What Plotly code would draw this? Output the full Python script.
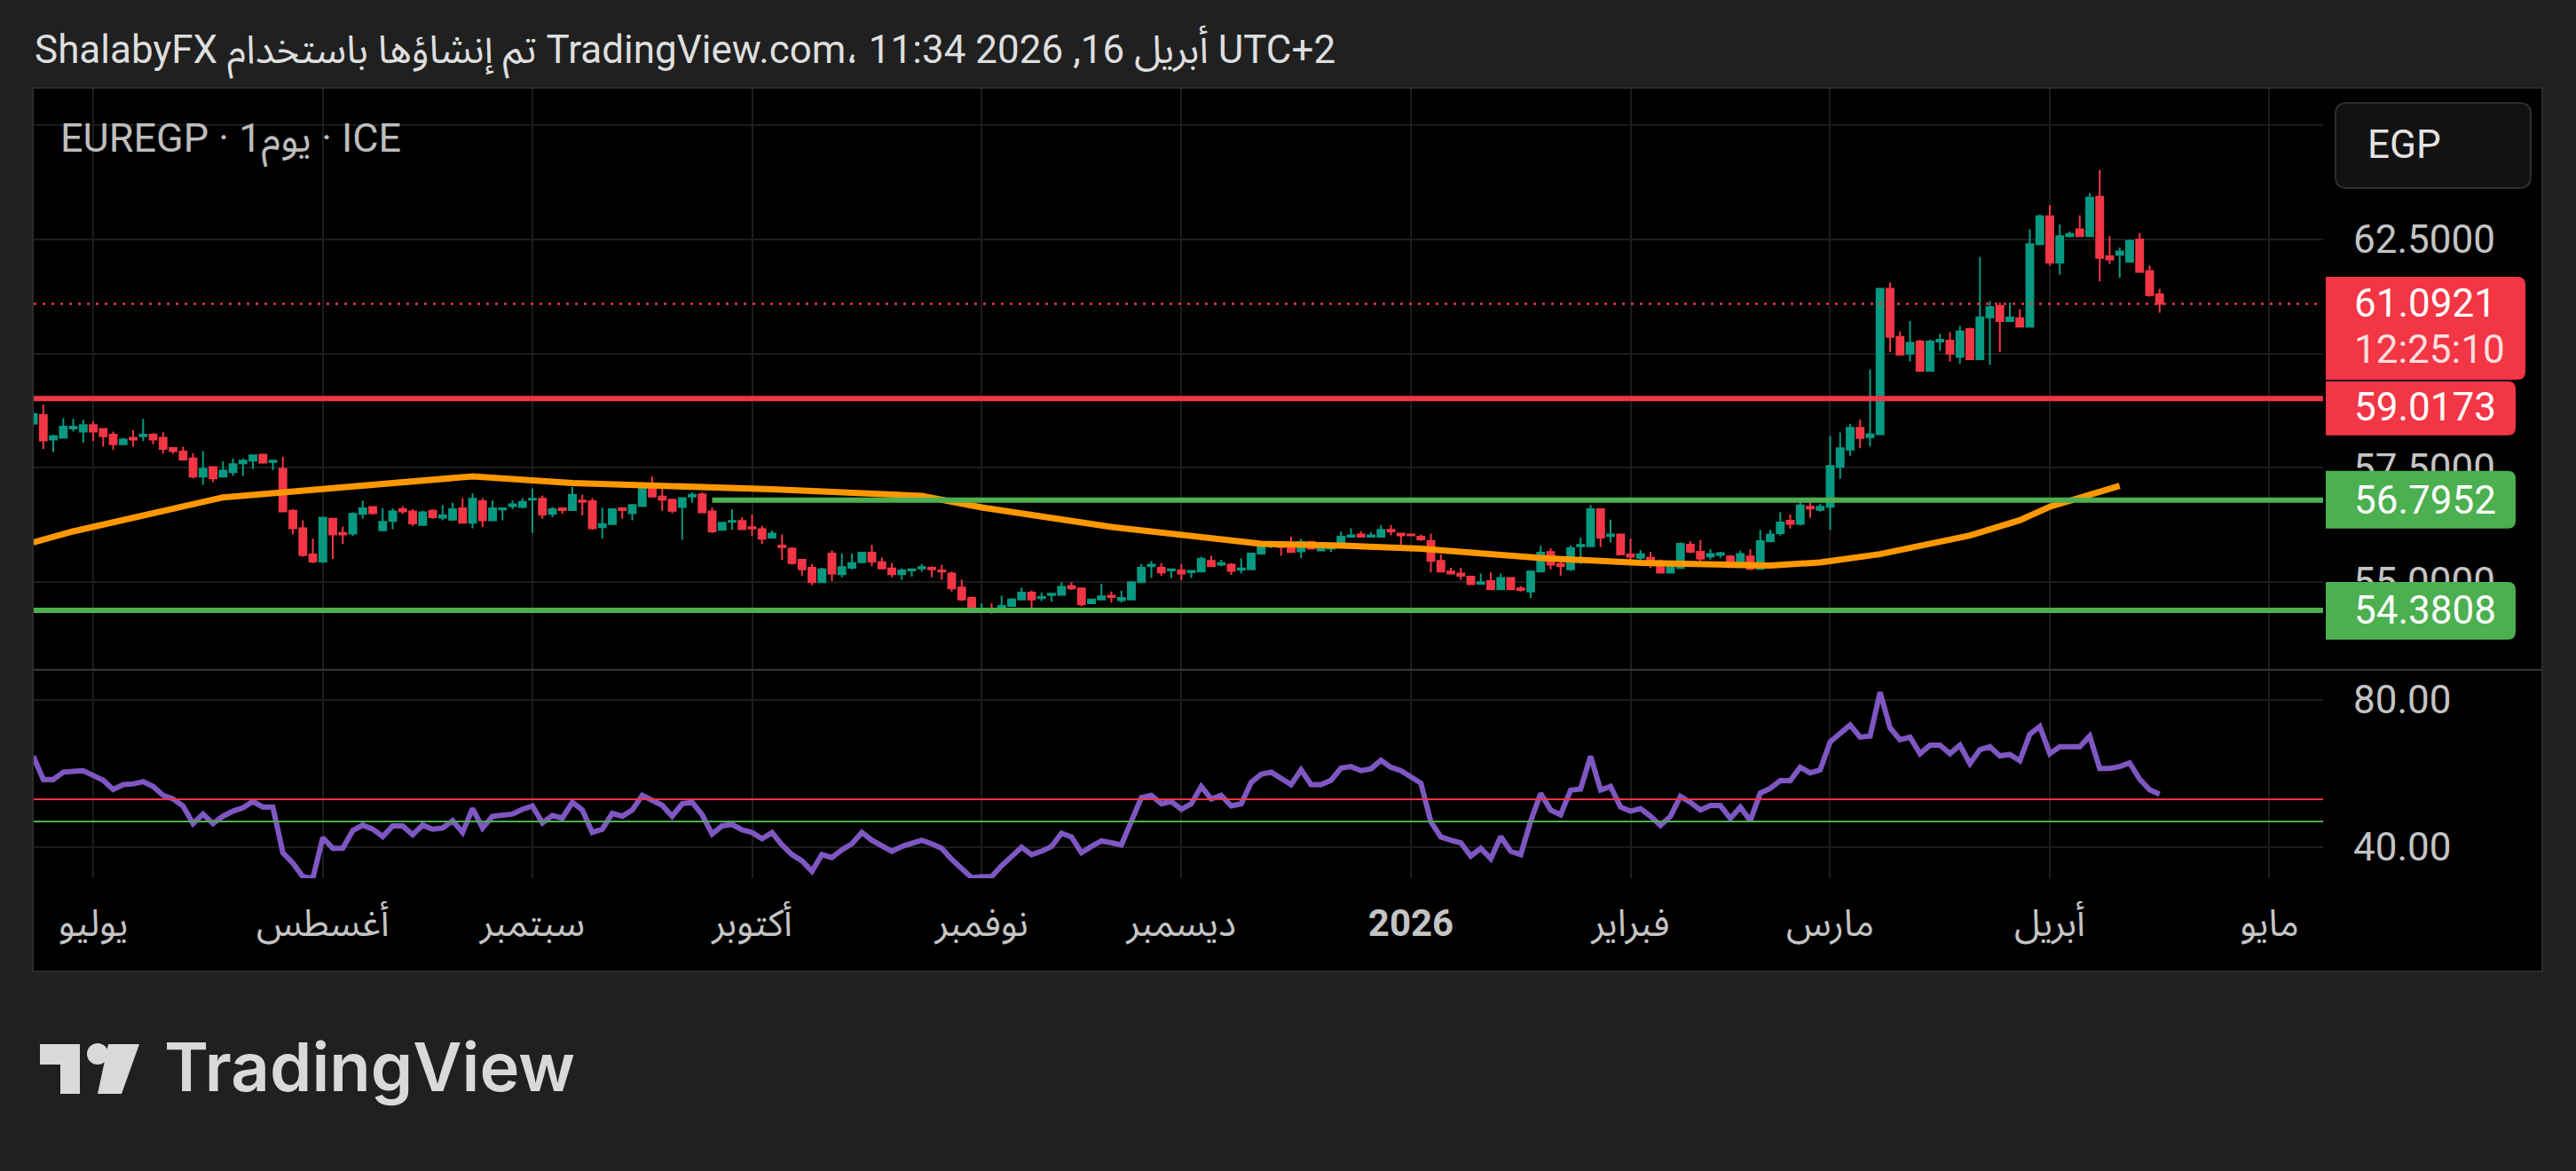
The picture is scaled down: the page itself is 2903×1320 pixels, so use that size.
import pandas as pd
import plotly.graph_objects as go

# ---------------- data ----------------
dates = [d.strftime("%Y-%m-%d") for d in pd.bdate_range("2025-06-23", "2026-04-16")]
axis_dates = [d.strftime("%Y-%m-%d") for d in pd.bdate_range("2025-06-23", "2026-05-08")]

opens = [
    58.468, 58.656, 58.121, 58.156, 58.364, 58.295, 58.434, 58.350, 58.225, 58.017,
    58.156, 58.191, 58.225, 58.156, 57.934, 57.858, 57.705, 57.309, 57.518, 57.309,
    57.406, 57.601, 57.656, 57.788, 57.629, 57.476, 56.560, 56.178, 55.602, 55.449,
    56.386, 56.074, 56.060, 56.490, 56.643, 56.130, 56.338, 56.594, 56.546, 56.248,
    56.560, 56.407, 56.366, 56.615, 56.296, 56.768, 56.352, 56.588, 56.664, 56.643,
    56.803, 56.824, 56.490, 56.615, 56.574, 56.782, 56.768, 56.199, 56.268, 56.615,
    56.504, 56.664, 57.059, 56.872, 56.803, 56.643, 56.872, 56.921, 56.546, 56.143,
    56.317, 56.338, 56.199, 56.157, 55.970, 55.796, 55.727, 55.484, 55.311, 54.998,
    55.623, 55.172, 55.311, 55.435, 55.644, 55.435, 55.297, 55.172, 55.255, 55.297,
    55.311, 55.255, 55.186, 54.880, 54.651, 54.374, 54.374, 54.339, 54.478, 54.617,
    54.769, 54.644, 54.714, 54.721, 54.908, 54.860, 54.533, 54.617, 54.700, 54.603,
    54.617, 54.998, 55.345, 55.311, 55.255, 55.255, 55.214, 55.227, 55.463, 55.380,
    55.380, 55.269, 55.276, 55.623, 55.782, 55.817, 55.796, 55.672, 55.880, 55.692,
    55.727, 55.796, 55.991, 56.039, 55.991, 55.991, 56.143, 56.060, 56.039, 55.991,
    55.901, 55.463, 55.227, 55.186, 55.116, 54.964, 55.019, 54.839, 55.089, 54.860,
    54.790, 55.227, 55.658, 55.394, 55.276, 55.782, 55.782, 56.594, 56.005, 56.039,
    55.602, 55.530, 55.530, 55.408, 55.205, 55.306, 55.815, 55.662, 55.560, 55.591,
    55.560, 55.327, 55.560, 55.286, 55.896, 56.069, 56.343, 56.272, 56.648, 56.577,
    56.648, 57.522, 57.898, 58.375, 58.172, 58.233, 61.424, 60.367, 60.001, 60.265,
    59.625, 60.265, 60.286, 59.930, 60.540, 59.879, 60.794, 61.048, 60.713, 60.774,
    60.591, 62.400, 63.009, 61.993, 62.572, 62.725, 62.572, 63.436, 62.135, 62.166,
    62.013, 62.501, 61.810, 61.302,
]
highs = [
    58.711, 58.885, 58.225, 58.586, 58.572, 58.558, 58.517, 58.350, 58.295, 58.156,
    58.330, 58.572, 58.260, 58.281, 57.934, 57.962, 57.823, 57.864, 57.518, 57.642,
    57.705, 57.705, 57.774, 57.809, 57.670, 57.740, 56.594, 56.352, 55.949, 56.421,
    56.386, 56.213, 56.525, 56.782, 56.664, 56.615, 56.615, 56.664, 56.594, 56.560,
    56.594, 56.685, 56.733, 56.837, 56.941, 56.837, 56.782, 56.615, 56.782, 56.837,
    57.046, 56.893, 56.643, 56.629, 57.080, 56.907, 56.837, 56.629, 56.615, 56.629,
    56.699, 57.129, 57.309, 57.115, 56.803, 56.837, 56.962, 56.962, 56.629, 56.296,
    56.594, 56.421, 56.477, 56.227, 56.130, 56.039, 55.762, 55.484, 55.394, 55.311,
    55.692, 55.623, 55.623, 55.658, 55.810, 55.533, 55.415, 55.297, 55.297, 55.394,
    55.345, 55.380, 55.227, 55.047, 54.686, 54.533, 54.533, 54.700, 54.651, 54.880,
    54.811, 54.769, 54.756, 54.998, 54.998, 54.880, 54.631, 54.964, 54.790, 54.811,
    54.998, 55.394, 55.463, 55.415, 55.276, 55.394, 55.255, 55.553, 55.574, 55.484,
    55.415, 55.519, 55.623, 55.880, 55.852, 55.880, 55.991, 55.949, 55.901, 55.866,
    55.852, 56.109, 56.178, 56.109, 56.088, 56.248, 56.248, 56.074, 56.039, 56.039,
    56.060, 55.602, 55.311, 55.311, 55.116, 55.186, 55.207, 55.186, 55.102, 54.908,
    55.255, 55.796, 55.741, 55.449, 55.796, 55.970, 56.685, 56.594, 56.366, 56.039,
    55.949, 55.700, 55.662, 55.489, 55.459, 55.865, 55.896, 55.916, 55.713, 55.662,
    55.591, 55.692, 55.713, 56.140, 56.140, 56.526, 56.475, 56.780, 56.749, 56.709,
    58.203, 58.274, 58.457, 58.558, 59.656, 61.424, 61.556, 60.489, 60.713, 60.306,
    60.306, 60.438, 60.469, 60.611, 60.570, 62.115, 61.150, 61.119, 61.119, 60.977,
    62.725, 63.050, 63.253, 62.826, 62.674, 63.030, 63.517, 64.025, 62.572, 62.318,
    62.501, 62.643, 61.932, 61.424,
]
lows = [
    58.434, 57.913, 57.844, 58.156, 58.295, 58.052, 58.087, 57.962, 57.892, 58.003,
    57.962, 58.087, 58.017, 57.809, 57.809, 57.684, 57.268, 57.129, 57.184, 57.309,
    57.323, 57.323, 57.476, 57.587, 57.448, 56.546, 56.039, 55.553, 55.415, 55.415,
    55.505, 55.831, 56.005, 56.386, 56.477, 56.109, 56.157, 56.490, 56.227, 56.248,
    56.386, 56.352, 56.338, 56.282, 56.178, 56.199, 56.338, 56.352, 56.594, 56.615,
    56.074, 56.386, 56.421, 56.490, 56.560, 56.456, 56.143, 55.949, 56.248, 56.386,
    56.352, 56.664, 56.851, 56.560, 56.504, 55.921, 56.733, 56.504, 56.074, 56.143,
    56.143, 56.143, 56.005, 55.831, 55.970, 55.484, 55.380, 55.137, 54.929, 54.977,
    55.019, 55.102, 55.276, 55.415, 55.345, 55.297, 55.102, 55.047, 55.116, 55.227,
    55.102, 55.047, 54.790, 54.582, 54.325, 54.339, 54.304, 54.339, 54.464, 54.603,
    54.325, 54.582, 54.561, 54.700, 54.825, 54.464, 54.533, 54.603, 54.547, 54.547,
    54.603, 54.977, 55.089, 55.137, 55.089, 55.033, 55.089, 55.227, 55.324, 55.345,
    55.158, 55.186, 55.276, 55.602, 55.741, 55.574, 55.644, 55.519, 55.713, 55.692,
    55.658, 55.782, 55.991, 55.970, 55.991, 55.991, 56.019, 55.810, 56.005, 55.901,
    55.207, 55.207, 55.172, 55.047, 54.950, 54.950, 54.825, 54.825, 54.825, 54.790,
    54.651, 55.207, 55.276, 55.137, 55.241, 55.394, 55.782, 55.762, 55.866, 55.588,
    55.484, 55.350, 55.306, 55.185, 55.185, 55.286, 55.632, 55.459, 55.489, 55.530,
    55.327, 55.306, 55.256, 55.286, 55.865, 56.018, 56.170, 56.241, 56.404, 56.546,
    56.140, 57.258, 57.766, 57.928, 57.969, 58.233, 60.032, 59.981, 59.829, 59.625,
    59.625, 60.062, 59.829, 59.778, 59.879, 59.879, 59.757, 60.032, 60.692, 60.591,
    60.591, 62.369, 61.932, 61.729, 62.542, 62.572, 62.572, 61.587, 61.963, 61.658,
    61.993, 61.790, 61.251, 60.896,
]
closes = [
    58.677, 58.100, 58.191, 58.399, 58.399, 58.434, 58.295, 58.191, 58.017, 58.121,
    58.121, 58.225, 58.121, 57.913, 57.864, 57.684, 57.309, 57.476, 57.268, 57.441,
    57.580, 57.656, 57.774, 57.615, 57.656, 56.546, 56.178, 55.588, 55.449, 56.407,
    56.039, 56.039, 56.490, 56.615, 56.504, 56.317, 56.546, 56.546, 56.282, 56.525,
    56.421, 56.456, 56.594, 56.296, 56.824, 56.352, 56.615, 56.615, 56.699, 56.754,
    56.824, 56.477, 56.594, 56.574, 56.907, 56.754, 56.178, 56.268, 56.594, 56.574,
    56.685, 57.046, 56.872, 56.803, 56.560, 56.837, 56.907, 56.525, 56.109, 56.296,
    56.338, 56.157, 56.171, 55.949, 56.060, 55.762, 55.415, 55.276, 54.998, 55.276,
    55.186, 55.325, 55.415, 55.644, 55.449, 55.297, 55.172, 55.255, 55.276, 55.325,
    55.276, 55.227, 54.860, 54.617, 54.339, 54.408, 54.339, 54.478, 54.617, 54.769,
    54.617, 54.672, 54.742, 54.894, 54.860, 54.512, 54.617, 54.686, 54.672, 54.651,
    54.998, 55.311, 55.380, 55.207, 55.276, 55.186, 55.241, 55.505, 55.345, 55.415,
    55.241, 55.297, 55.623, 55.810, 55.831, 55.762, 55.658, 55.880, 55.727, 55.762,
    55.796, 55.991, 56.019, 55.991, 56.019, 56.143, 56.109, 56.019, 56.019, 55.935,
    55.463, 55.227, 55.186, 55.137, 54.950, 54.998, 54.839, 55.089, 54.839, 54.825,
    55.227, 55.644, 55.380, 55.345, 55.741, 55.810, 56.594, 55.970, 56.039, 55.602,
    55.553, 55.610, 55.388, 55.205, 55.388, 55.835, 55.662, 55.510, 55.611, 55.632,
    55.327, 55.611, 55.286, 55.896, 56.038, 56.302, 56.272, 56.678, 56.607, 56.648,
    57.542, 57.928, 58.375, 58.152, 58.233, 61.424, 60.367, 59.981, 60.235, 59.625,
    60.265, 60.306, 60.001, 60.489, 59.879, 60.794, 61.018, 60.713, 60.794, 60.591,
    62.400, 63.009, 61.993, 62.572, 62.623, 62.572, 63.416, 62.095, 62.064, 62.237,
    62.471, 61.790, 61.282, 61.0921,
]
rsi = [
    64.7, 58.4, 58.4, 60.4, 60.6, 60.8, 59.5, 58.2, 55.7, 57.0,
    57.2, 57.8, 56.5, 54.1, 53.1, 51.2, 46.4, 49.0, 46.4, 48.4,
    49.8, 50.7, 52.4, 50.9, 50.9, 38.5, 35.7, 32.0, 31.6, 42.6,
    39.7, 39.7, 44.5, 46.0, 44.9, 42.9, 45.8, 45.8, 43.4, 46.0,
    44.9, 45.2, 47.2, 44.0, 50.5, 45.2, 48.4, 48.6, 49.0, 50.3,
    51.2, 46.6, 48.6, 47.9, 52.2, 50.1, 44.0, 44.9, 49.2, 48.4,
    50.1, 54.1, 52.7, 51.4, 48.4, 51.8, 52.2, 48.8, 43.6, 45.8,
    46.2, 44.7, 44.0, 42.3, 44.0, 40.6, 38.0, 36.3, 33.5, 38.0,
    37.2, 39.3, 40.9, 44.0, 41.9, 40.3, 38.9, 40.2, 40.9, 41.9,
    40.9, 39.7, 36.7, 34.2, 31.7, 32.0, 32.0, 35.0, 37.6, 40.0,
    38.0, 38.9, 40.2, 43.8, 42.8, 38.5, 40.2, 41.7, 41.2, 40.6,
    47.1, 53.5, 54.1, 51.8, 52.4, 50.3, 51.8, 56.5, 53.1, 54.1,
    51.2, 51.8, 57.6, 59.8, 60.4, 58.7, 57.0, 61.0, 57.0, 57.0,
    58.2, 61.5, 61.9, 60.8, 61.3, 63.6, 61.7, 60.8, 59.3, 57.4,
    46.9, 42.8, 41.9, 41.2, 37.6, 39.7, 36.9, 42.9, 38.9, 38.0,
    47.1, 54.6, 50.1, 48.8, 55.5, 55.8, 64.7, 55.5, 56.5, 50.9,
    49.8, 50.5, 48.4, 45.9, 48.4, 53.8, 52.2, 50.1, 51.3, 51.3,
    47.8, 50.9, 47.2, 54.7, 56.0, 58.1, 58.1, 61.7, 60.2, 61.0,
    68.6, 71.1, 73.2, 69.9, 70.2, 82.1, 72.4, 69.2, 69.9, 65.4,
    67.7, 67.7, 65.4, 67.7, 62.7, 66.5, 67.3, 64.8, 65.2, 63.5,
    70.7, 72.8, 65.4, 67.3, 67.3, 67.3, 70.2, 61.4, 61.4, 61.9,
    62.9, 58.5, 55.6, 54.4,
]

ma_dates = ["2025-06-23", "2025-06-27", "2025-07-18", "2025-08-01", "2025-08-22", "2025-09-05",
            "2025-10-03", "2025-10-24", "2025-11-03", "2025-11-20", "2025-12-11", "2025-12-23",
            "2026-01-02", "2026-01-20", "2026-02-03", "2026-02-20", "2026-02-27", "2026-03-09",
            "2026-03-20", "2026-03-27", "2026-04-01", "2026-04-10"]
ma_values = [55.867, 56.108, 56.852, 57.046, 57.313, 57.165,
             57.033, 56.885, 56.632, 56.205, 55.836, 55.797,
             55.727, 55.525, 55.416, 55.358, 55.428, 55.610,
             56.019, 56.353, 56.648, 57.105]

month_ticks = ["2025-07-01", "2025-08-01", "2025-09-01", "2025-10-01", "2025-11-03", "2025-12-01",
               "2026-01-01", "2026-02-02", "2026-03-02", "2026-04-01", "2026-05-01"]
month_labels = ["يوليو", "أغسطس", "سبتمبر", "أكتوبر", "نوفمبر", "ديسمبر",
                "<b>2026</b>", "فبراير", "مارس", "أبريل", "مايو"]

price_ticks = [55.0, 57.5, 60.0, 62.5, 65.0]
# 60.0000 and 65.0000 sit fully under the price / currency boxes in the original
price_tick_labels = ["55.0000", "57.5000", "", "62.5000", ""]
rsi_ticks = [40, 80]

last_price = 61.0921
countdown = "12:25:10"
resistance = 59.0173
support_mid = 56.7952
support_low = 54.3808
support_mid_start = "2025-09-25"
rsi_upper = 53
rsi_lower = 47

header_text = "ShalabyFX تم إنشاؤها باستخدام TradingView.com، أبريل 16, 2026 11:34 UTC+2"
symbol_text = "EUREGP · 1يوم · ICE"
currency_text = "EGP"
logo_text = "TradingView"

# ---------------- style / geometry ----------------
W, H = 2903, 1320
L, R, T, B = 38, 2618, 100, 990
SPLIT_PX = 755
SPLIT = (B - SPLIT_PX) / (B - T)
FONT = "Roboto, 'Noto Sans Arabic', 'Noto Sans', 'DejaVu Sans', sans-serif"
UP, DOWN = "#089981", "#f23645"
GREEN = "#4caf50"
ORANGE = "#ff9800"
PURPLE = "#7e57c2"
GRID = "#1c1c1c"
TICK_COLOR = "#c4c4c4"

fig = go.Figure()
fig.add_trace(go.Scatter(x=ma_dates, y=ma_values, mode="lines", xaxis="x", yaxis="y",
                         line=dict(color=ORANGE, width=7), hoverinfo="skip"))
fig.add_trace(go.Candlestick(x=dates, open=opens, high=highs, low=lows, close=closes,
                             xaxis="x", yaxis="y", whiskerwidth=0,
                             increasing=dict(line=dict(color=UP, width=2), fillcolor=UP),
                             decreasing=dict(line=dict(color=DOWN, width=2), fillcolor=DOWN)))
fig.add_trace(go.Scatter(x=dates, y=rsi, mode="lines", xaxis="x", yaxis="y2",
                         line=dict(color=PURPLE, width=6), hoverinfo="skip"))


def rrect_right(x0, x1, y0, y1, r):
    return (f"M {x0},{y0} L {x1 - r},{y0} Q {x1},{y0} {x1},{y0 + r} "
            f"L {x1},{y1 - r} Q {x1},{y1} {x1 - r},{y1} L {x0},{y1} Z")


def rrect_all(x0, x1, y0, y1, r):
    return (f"M {x0 + r},{y0} L {x1 - r},{y0} Q {x1},{y0} {x1},{y0 + r} "
            f"L {x1},{y1 - r} Q {x1},{y1} {x1 - r},{y1} L {x0 + r},{y1} "
            f"Q {x0},{y1} {x0},{y1 - r} L {x0},{y0 + r} Q {x0},{y0} {x0 + r},{y0} Z")


shapes = []
# outer frame (black chart area with subtle border)
shapes.append(dict(type="rect", xref="paper", yref="paper", xsizemode="pixel", ysizemode="pixel",
                   xanchor=0, yanchor=0, x0=-1, x1=2827, y0=-105, y1=891,
                   fillcolor="#000000", line=dict(color="#2c2c2c", width=2), layer="below"))
# pane separator
shapes.append(dict(type="line", xref="paper", yref="paper", x0=0, x1=(2864 - L) / (R - L),
                   y0=SPLIT, y1=SPLIT, line=dict(color="#363636", width=2)))
# horizontal levels
shapes.append(dict(type="line", xref="paper", yref="y", x0=0, x1=1, y0=last_price, y1=last_price,
                   line=dict(color=DOWN, width=2.5, dash="3px,7px")))
shapes.append(dict(type="line", xref="paper", yref="y", x0=0, x1=1, y0=resistance, y1=resistance,
                   line=dict(color=DOWN, width=6)))
shapes.append(dict(type="line", xref="x", yref="y", x0=axis_dates.index(support_mid_start),
                   x1=len(axis_dates), y0=support_mid, y1=support_mid,
                   line=dict(color=GREEN, width=6)))
shapes.append(dict(type="line", xref="paper", yref="y", x0=0, x1=1, y0=support_low, y1=support_low,
                   line=dict(color=GREEN, width=6)))
shapes.append(dict(type="line", xref="paper", yref="y2", x0=0, x1=1, y0=rsi_upper, y1=rsi_upper,
                   line=dict(color=DOWN, width=2)))
shapes.append(dict(type="line", xref="paper", yref="y2", x0=0, x1=1, y0=rsi_lower, y1=rsi_lower,
                   line=dict(color=GREEN, width=2)))

# price label boxes (pixel-sized, anchored at their price)
box_specs = [
    (last_price, DOWN, 3, 228, -85.5, 30.5),
    (resistance, DOWN, 3, 217, -41.6, 19.4),
    (support_mid, GREEN, 3, 217, -32.2, 32.8),
    (support_low, GREEN, 3, 217, -33.0, 32.0),
]
for val, col, bx0, bx1, by0, by1 in box_specs:
    shapes.append(dict(type="path", xref="paper", yref="y", xsizemode="pixel", ysizemode="pixel",
                       xanchor=1, yanchor=val, path=rrect_right(bx0, bx1, by0, by1, 9),
                       fillcolor=col, line=dict(width=0), layer="above"))
# currency box
shapes.append(dict(type="path", xref="paper", yref="paper", xsizemode="pixel", ysizemode="pixel",
                   xanchor=1, yanchor=1, path=rrect_all(14, 234, -112, -16, 13),
                   fillcolor="#121212", line=dict(color="#2e2e2e", width=2), layer="above"))
# TradingView logo mark
LOGO = "#d9d9d9"
shapes.append(dict(type="path", xref="paper", yref="paper", xsizemode="pixel", ysizemode="pixel",
                   xanchor=0, yanchor=0,
                   path="M 7,-187 L 52,-187 L 52,-243 L 30,-243 L 30,-210 L 7,-210 Z",
                   fillcolor=LOGO, line=dict(width=0)))
shapes.append(dict(type="circle", xref="paper", yref="paper", xsizemode="pixel", ysizemode="pixel",
                   xanchor=0, yanchor=0, x0=60, x1=84, y0=-210, y1=-186,
                   fillcolor=LOGO, line=dict(width=0)))
shapes.append(dict(type="path", xref="paper", yref="paper", xsizemode="pixel", ysizemode="pixel",
                   xanchor=0, yanchor=0, path="M 84,-187 L 119,-187 L 99,-243 L 72,-243 Z",
                   fillcolor=LOGO, line=dict(width=0)))

annotations = []
annotations.append(dict(xref="paper", yref="paper", x=0, y=1, xanchor="left", yanchor="middle",
                        xshift=-1, yshift=42, text=header_text, showarrow=False,
                        font=dict(size=44, color="#dedede")))
annotations.append(dict(xref="paper", yref="paper", x=0, y=1, xanchor="left", yanchor="middle",
                        xshift=28, yshift=-59, text=symbol_text, showarrow=False,
                        font=dict(size=45, color="#bdbdbd")))
annotations.append(dict(xref="paper", yref="paper", x=1, y=1, xanchor="left", yanchor="middle",
                        xshift=48, yshift=-63, text=currency_text, showarrow=False,
                        font=dict(size=44, color="#e2e2e2")))
label_specs = [
    (last_price, f"{last_price:.4f}", 0, "#ffffff"),
    (last_price, countdown, -52, "rgba(255,255,255,0.85)"),
    (resistance, f"{resistance:.4f}", -10, "#ffffff"),
    (support_mid, f"{support_mid:.4f}", 0, "#ffffff"),
    (support_low, f"{support_low:.4f}", 0, "#ffffff"),
]
for val, txt, ys, col in label_specs:
    annotations.append(dict(xref="paper", yref="y", x=1, y=val, xanchor="left", yanchor="middle",
                            xshift=33, yshift=ys, text=txt, showarrow=False,
                            font=dict(size=44, color=col)))
annotations.append(dict(xref="paper", yref="paper", x=0, y=0, xanchor="left", yanchor="middle",
                        xshift=145, yshift=-212, text=logo_text, showarrow=False,
                        font=dict(family="Inter, Lato, sans-serif", size=76, color=LOGO, weight=600)))

axis_common = dict(showgrid=True, gridcolor=GRID, gridwidth=2, zeroline=False, showline=False,
                   ticks="", fixedrange=True)

fig.update_layout(
    width=W, height=H,
    margin=dict(l=L, r=W - R, t=T, b=H - B, pad=0),
    paper_bgcolor="#202020", plot_bgcolor="#000000",
    showlegend=False, boxgap=0.3, boxgroupgap=0, dragmode=False, hovermode=False,
    font=dict(family=FONT, size=44, color=TICK_COLOR),
    xaxis=dict(type="category", categoryorder="array", categoryarray=axis_dates,
               range=[0.04, 229.38], anchor="y2", domain=[0, 1],
               tickmode="array", tickvals=month_ticks, ticktext=month_labels,
               tickfont=dict(size=42, color=TICK_COLOR), ticklabelstandoff=22,
               rangeslider=dict(visible=False), **axis_common),
    yaxis=dict(domain=[SPLIT, 1], range=[53.077, 65.803], side="right", anchor="x",
               tickmode="array", tickvals=price_ticks, ticktext=price_tick_labels,
               tickfont=dict(size=44, color=TICK_COLOR), ticklabelstandoff=33, **axis_common),
    yaxis2=dict(domain=[0, SPLIT], range=[31.57, 88.19], side="right", anchor="x",
                tickmode="array", tickvals=rsi_ticks, tickformat=".2f",
                tickfont=dict(size=44, color=TICK_COLOR), ticklabelstandoff=33, **axis_common),
    shapes=shapes, annotations=annotations,
)

fig.write_html("out.html", config={"displayModeBar": False, "staticPlot": True},
               post_script="document.body.style.margin='0';document.body.style.padding='0';"
                           "document.body.style.background='#202020';")
